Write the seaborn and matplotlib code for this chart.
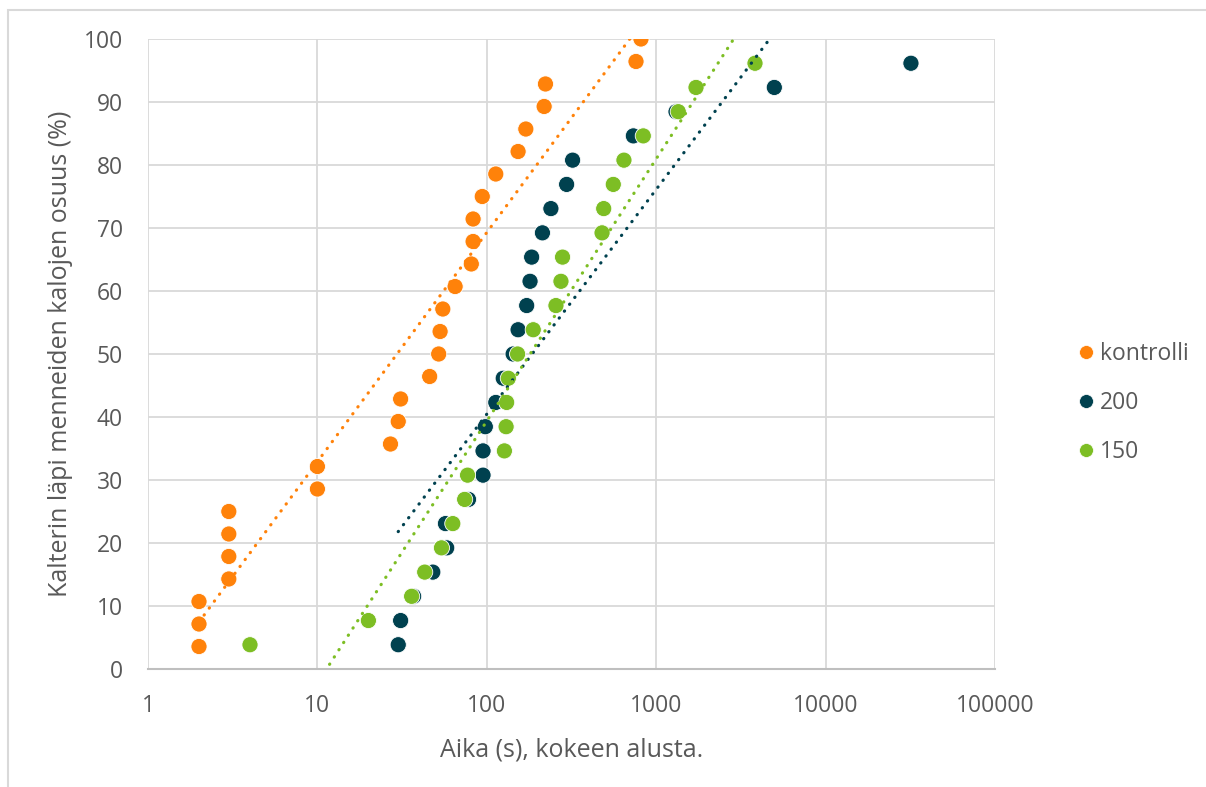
import numpy as np
import pandas as pd
import seaborn as sns
import matplotlib
matplotlib.use('agg')
import matplotlib.pyplot as plt
from matplotlib.patches import Rectangle
from matplotlib.lines import Line2D

kontrolli_x = [2, 2, 2, 3, 3, 3, 3, 10, 10, 27, 30, 31, 46, 52, 53, 55, 65, 81, 83, 83,
               94, 113, 153, 170, 218, 222, 760, 813]
kontrolli_y = [3.57, 7.14, 10.71, 14.29, 17.86, 21.43, 25.0, 28.57, 32.14, 35.71, 39.29,
               42.86, 46.43, 50.0, 53.57, 57.14, 60.71, 64.29, 67.86, 71.43, 75.0, 78.57,
               82.14, 85.71, 89.29, 92.86, 96.43, 100.0]

g200_x = [30, 31, 37, 48, 58, 57, 78, 95, 95, 98, 113, 125, 143, 153, 172, 180, 184, 213,
          239, 296, 321, 733, 1309, 4980, 31900]
g150_x = [4, 20, 36, 43, 54, 63, 74, 77, 127, 130, 131, 134, 152, 188, 256, 274, 280, 479,
          490, 558, 645, 839, 1350, 1718, 3830]
g_y = [3.85, 7.69, 11.54, 15.38, 19.23, 23.08, 26.92, 30.77, 34.62, 38.46, 42.31, 46.15,
       50.0, 53.85, 57.69, 61.54, 65.38, 69.23, 73.08, 76.92, 80.77, 84.62, 88.46, 92.31,
       96.15]

groups = ['kontrolli', '200', '150']
colors = {'kontrolli': '#FF820A', '200': '#00414F', '150': '#7DBE24'}
x_ticks = [1, 10, 100, 1000, 10000, 100000]
x_tick_labels = ['1', '10', '100', '1000', '10000', '100000']
y_ticks = [0, 10, 20, 30, 40, 50, 60, 70, 80, 90, 100]

df = pd.concat([
    pd.DataFrame({'aika': kontrolli_x, 'osuus': kontrolli_y, 'ryhma': 'kontrolli'}),
    pd.DataFrame({'aika': g200_x, 'osuus': g_y, 'ryhma': '200'}),
    pd.DataFrame({'aika': g150_x, 'osuus': g_y, 'ryhma': '150'}),
], ignore_index=True)

sns.set_theme(style='white')
plt.rcParams['font.family'] = ['Open Sans', 'DejaVu Sans']
text_col = '#595959'
grid_col = '#d9d9d9'
fs = 16.5

fig = plt.figure(figsize=(12.06, 7.87), dpi=100, facecolor='white')
ax = fig.add_axes([148 / 1206, 118 / 787, 847 / 1206, 630 / 787])

sns.scatterplot(data=df, x='aika', y='osuus', hue='ryhma', hue_order=groups,
                palette=colors, s=135, edgecolor='white', linewidth=0.6,
                legend=False, ax=ax, zorder=3)

# Excel-style logarithmic trendlines (y = a*ln(x) + b), fitted over each group's range
for grp in groups:
    sub = df[df['ryhma'] == grp]
    a, b = np.polyfit(np.log(sub['aika']), sub['osuus'], 1)
    xs = np.logspace(np.log10(sub['aika'].min()), np.log10(sub['aika'].max()), 400)
    ax.plot(xs, a * np.log(xs) + b, color=colors[grp], linewidth=2.3,
            linestyle=(0, (0.1, 2.6)), dash_capstyle='round', zorder=4)

ax.set_xscale('log')
ax.set_xlim(1, 100000)
ax.set_ylim(0, 100)
ax.set_xticks(x_ticks)
ax.set_xticklabels(x_tick_labels)
ax.minorticks_off()
ax.set_yticks(y_ticks)
ax.grid(True, color=grid_col, linewidth=1.3)
ax.set_axisbelow(True)
for side in ['top', 'right', 'left']:
    ax.spines[side].set_visible(False)
ax.spines['bottom'].set_color('#bfbfbf')
ax.spines['bottom'].set_linewidth(1.5)
ax.tick_params(axis='both', length=0, labelsize=fs, labelcolor=text_col)
ax.tick_params(axis='y', pad=18)
ax.tick_params(axis='x', pad=18)

ax.set_xlabel('Aika (s), kokeen alusta.', fontsize=18, color=text_col, labelpad=14)
ax.set_ylabel('Kalterin läpi menneiden kalojen osuus (%)', fontsize=18,
              color=text_col, labelpad=8)

handles = [Line2D([], [], marker='o', linestyle='', markersize=10,
                  markerfacecolor=colors[g], markeredgecolor='white', markeredgewidth=0.5)
           for g in groups]
leg = ax.legend(handles, groups, loc='center left', bbox_to_anchor=(1.07, 0.422),
                frameon=False, fontsize=fs, labelspacing=1.1, handletextpad=0.1,
                handlelength=1.0)
for t in leg.get_texts():
    t.set_color(text_col)

# chart-area border
fig.patches.append(Rectangle((8 / 1206, -0.1), 1.2, (777 / 787) + 0.1,
                             transform=fig.transFigure, fill=False,
                             edgecolor=grid_col, linewidth=1.5))

fig.savefig('out.png', dpi=100, facecolor='white')
